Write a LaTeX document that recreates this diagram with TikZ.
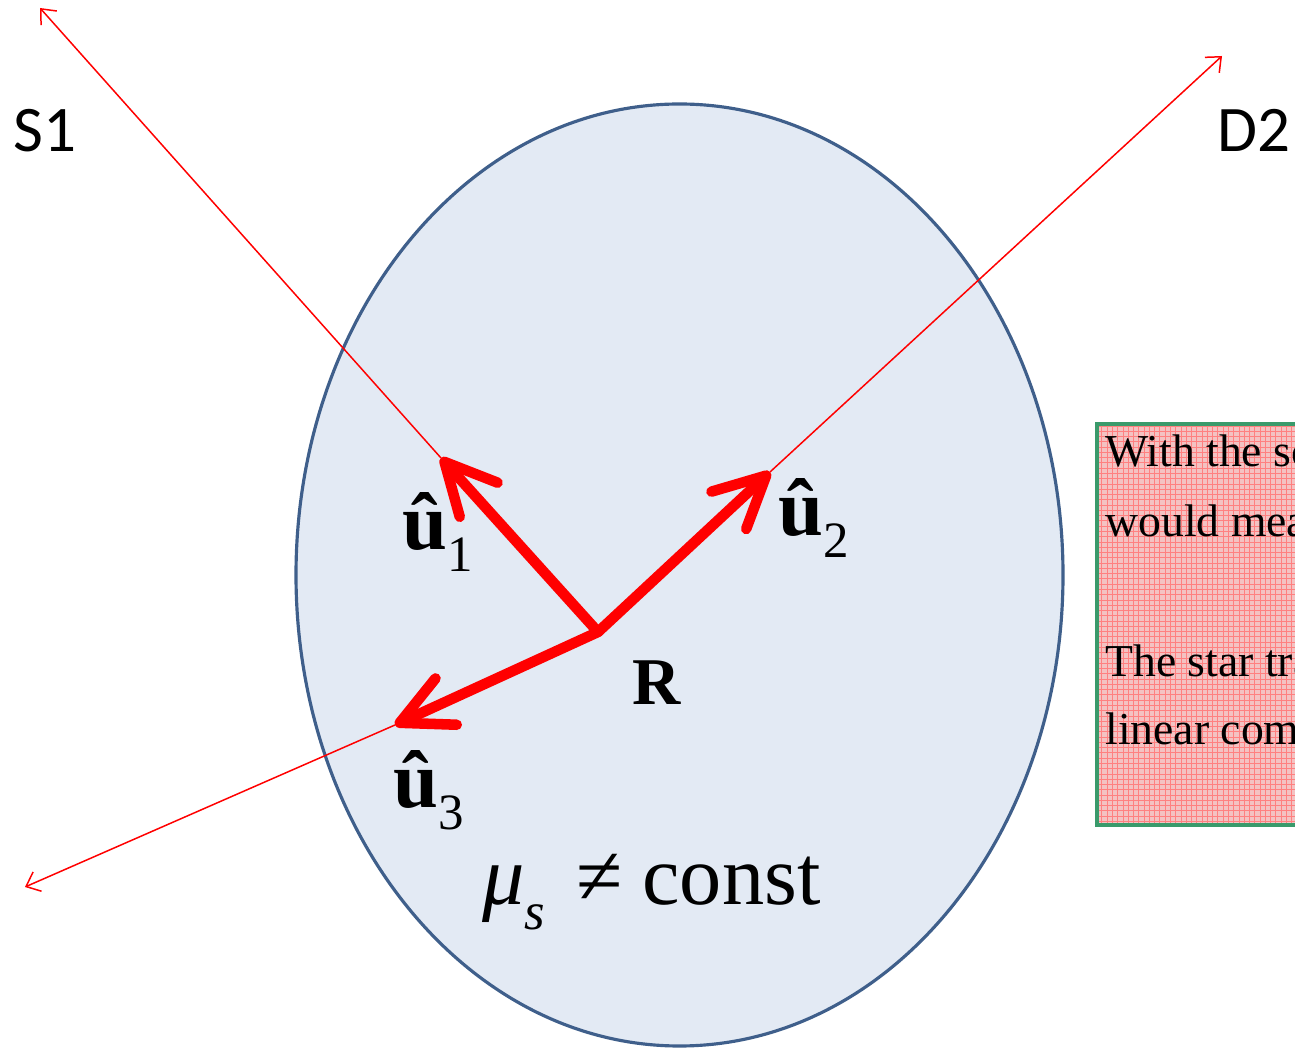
\documentclass[tikz,border=0pt]{standalone}
\usepackage{fontspec}
\setmainfont{Liberation Serif}
\newfontfamily\sidefont{Carlito}
\usetikzlibrary{arrows.meta,patterns}
\definecolor{ScBlue}{HTML}{E3EAF4}
\definecolor{ScEdge}{HTML}{3F5F8B}
\definecolor{ScRed}{HTML}{FF0000}
\definecolor{NoteGreen}{HTML}{3A9A6B}
\definecolor{NotePink}{HTML}{F4C2C2}
\newcommand{\uvec}[1]{{\fontsize{46}{46}\selectfont\bfseries\^u}\raisebox{-12pt}{\fontsize{29}{29}\selectfont #1}}

\begin{document}
\begin{tikzpicture}[x=1cm,y=1cm,
  ray/.style={ScRed,line width=.85pt,-{Straight Barb[length=7pt,width=12pt]}},
  dirvec/.style={ScRed,line width=6pt,line cap=round,-{Straight Barb[length=29pt,width=29pt,round]}},
  sidelbl/.style={font=\sidefont\fontsize{37}{37}\selectfont,anchor=base},
  notetxt/.style={anchor=base west,font=\fontsize{26}{26}\selectfont,inner sep=0pt}]
\path[use as bounding box] (0,0) rectangle (25.90,20.96);
% medium
\draw[ScEdge,fill=ScBlue,line width=1.8pt] (13.59,9.46) ellipse (7.67 and 9.42);
\coordinate (R) at (11.96,8.32);
\coordinate (tip1) at (8.82,11.80);
\coordinate (tip2) at (15.40,11.52);
\coordinate (tip3) at (7.90,6.46);
\coordinate (end1) at (0.80,20.80);
\coordinate (end2) at (24.44,19.84);
\coordinate (end3) at (0.50,3.22);
% rays
\draw[ray] (tip1) -- (end1);
\draw[ray] (tip2) -- (end2);
\draw[ray] (tip3) -- (end3);
\draw[dirvec] (R) -- (tip1);
\draw[dirvec] (R) -- (tip2);
\draw[dirvec] (R) -- (tip3);
% labels
\node[sidelbl] (lblS) at (0.90,17.92) {S1};
\node[sidelbl] (lblD) at (25.07,17.92) {D2};
\node[anchor=base west,inner sep=0pt] (lblu1) at (8.04,9.96) {\uvec{1}};
\node[anchor=base west,inner sep=0pt] (lblu2) at (15.56,10.24) {\uvec{2}};
\node[anchor=base west,inner sep=0pt] (lblu3) at (7.86,4.80) {\uvec{3}};
\node[anchor=base,font=\fontsize{38}{38}\selectfont\bfseries] (lblR) at (13.14,6.86) {R};
\node[anchor=base west,inner sep=0pt,font=\fontsize{48}{48}\selectfont] (lblmu) at (9.64,2.86)
  {{\itshape μ}\raisebox{-14pt}{\fontsize{30}{30}\selectfont\itshape s}\hspace{18pt}≠\hspace{11pt}const};
% note box
\fill[NotePink] (21.94,4.46) rectangle (26.50,12.48);
\fill[pattern=grid,pattern color=ScRed!50] (21.94,4.46) rectangle (26.50,12.48);
\draw[NoteGreen,line width=2.3pt] (21.94,4.46) rectangle (26.50,12.48);
\node[notetxt] (note1) at (22.10,11.62) {With the sc};
\node[notetxt] (note2) at (22.10,10.22) {would mea};
\node[notetxt] (note3) at (22.10,7.42) {The star tra};
\node[notetxt] (note4) at (22.10,6.06) {linear com};
\end{tikzpicture}
\end{document}
